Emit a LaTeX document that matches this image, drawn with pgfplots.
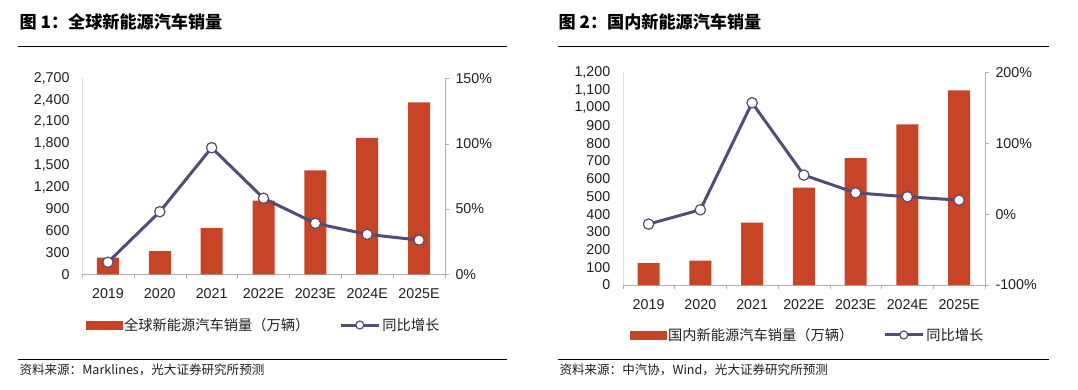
\documentclass[border=0pt]{standalone}
\usepackage{pgfplots}
\usepackage{pgfplotstable}
\pgfplotsset{compat=1.18}
\usepackage{fontspec}
\setmainfont{Liberation Sans}
\newfontfamily\cjk{Noto Sans CJK SC}
\definecolor{barred}{RGB}{200,68,38}
\definecolor{linepur}{RGB}{82,76,118}
\definecolor{axgray}{RGB}{175,175,175}
\definecolor{axlight}{RGB}{222,222,222}
\definecolor{txt}{RGB}{30,30,30}

\pgfplotstableread{
x val g
0 230 9.2
1 320 47.9
2 635 96.9
3 1015 58.2
4 1430 39.0
5 1880 30.6
6 2370 26.2
}\globaltable

\pgfplotstableread{
x val g
0 124 -14.1
1 137 6.1
2 352 157
3 549 55
4 716 30
5 906 24.4
6 1098 19.7
}\domtable

\pgfplotsset{
  common/.style={scale only axis, xmin=-0.5, xmax=6.5,
    tick label style={font=\fontsize{14.3}{16}\selectfont, text=txt},
    /pgf/number format/assume math mode=true,
    /pgf/number format/1000 sep={,},
  },
  barax/.style={common,
    axis x line=bottom, axis y line=left,
    x axis line style={axgray,-}, y axis line style={axlight,-},
    xtick={0,...,6}, xticklabels={2019,2020,2021,2022E,2023E,2024E,2025E},
    major x tick style={draw=none},
    minor xtick={-0.5,0.5,1.5,2.5,3.5,4.5,5.5,6.5},
    minor x tick style={axgray},
    minor tick length=4bp, major tick length=0bp,
    tick align=outside,
    ytick style={draw=none},
    yticklabel style={xshift=-9bp},
    xticklabel style={yshift=-11bp},
  },
  lineax/.style={common,
    axis x line=none, axis y line*=right,
    y axis line style={axgray,-},
    ytick style={axgray},
    major tick length=4bp, tick align=outside,
    yticklabel={\pgfmathprintnumber{\tick}\%},
    yticklabel style={xshift=3bp},
    legend style={draw=none, fill=none, legend columns=2,
      font=\cjk\fontsize{14.3}{16}\selectfont, text=txt,
      /tikz/every even column/.append style={column sep=28bp}},
  },
  barplot/.style={ybar, bar width=22bp, fill=barred, draw=none},
  lineplot/.style={linepur, line width=3bp, mark=*, mark size=5.2bp,
    mark options={fill=white, draw=linepur, line width=1.2bp}},
  barleg/.style={legend image code/.code={\fill[barred] (0bp,-4bp) rectangle (36bp,4bp);}},
  lineleg/.style={legend image code/.code={\draw[linepur, line width=3bp] (0bp,0bp) -- (38bp,0bp);
      \draw[linepur, fill=white, line width=1.2bp] (19bp,0bp) circle (4bp);}},
}

\begin{document}
\begin{tikzpicture}
\useasboundingbox (0,0) rectangle (1078bp,-390bp);

% ---------- Chart 1 ----------
\node[anchor=west, font=\cjk\bfseries\fontsize{17.2}{19}\selectfont, text=black] at (16bp,-22bp) {图 1：全球新能源汽车销量};
\draw[line width=1.3bp] (18bp,-46.7bp) -- (507bp,-46.7bp);

\begin{axis}[barax, width=363bp, height=196bp, at={(82bp,-274.3bp)}, anchor=south west,
  ymin=0, ymax=2700, ytick={0,300,...,2700}]
\addplot[barplot] table[x=x, y=val] {\globaltable};
\end{axis}
\begin{axis}[lineax, width=363bp, height=196bp, at={(82bp,-274.3bp)}, anchor=south west,
  ymin=0, ymax=150, ytick={0,50,100,150},
  legend style={at={(0.5,-0.2587)}, anchor=center}]
\addlegendimage{barleg}
\addlegendentry{全球新能源汽车销量（万辆）}
\addplot[lineplot, lineleg] table[x=x, y=g] {\globaltable};
\addlegendentry{同比增长}
\end{axis}

\draw[line width=1bp] (18bp,-359bp) -- (507bp,-359bp);
\node[anchor=west, font=\cjk\fontsize{12.6}{14}\selectfont, text=txt] at (16bp,-369.5bp) {资料来源：Marklines，光大证券研究所预测};

% ---------- Chart 2 ----------
\node[anchor=west, font=\cjk\bfseries\fontsize{17.2}{19}\selectfont, text=black] at (555bp,-22bp) {图 2：国内新能源汽车销量};
\draw[line width=1.3bp] (558bp,-46.7bp) -- (1049bp,-46.7bp);

\begin{axis}[barax, width=362.3bp, height=212.7bp, at={(622.7bp,-285bp)}, anchor=south west,
  ymin=0, ymax=1200, ytick={0,100,...,1200}]
\addplot[barplot] table[x=x, y=val] {\domtable};
\end{axis}
\begin{axis}[lineax, width=362.3bp, height=212.7bp, at={(622.7bp,-285bp)}, anchor=south west,
  ymin=-100, ymax=200, ytick={-100,0,100,200},
  legend style={at={(0.51,-0.235)}, anchor=center}]
\addlegendimage{barleg}
\addlegendentry{国内新能源汽车销量（万辆）}
\addplot[lineplot, lineleg] table[x=x, y=g] {\domtable};
\addlegendentry{同比增长}
\end{axis}

\draw[line width=1bp] (558bp,-359.3bp) -- (1049bp,-359.3bp);
\node[anchor=west, font=\cjk\fontsize{12.6}{14}\selectfont, text=txt] at (556bp,-369.5bp) {资料来源：中汽协，Wind，光大证券研究所预测};
\end{tikzpicture}
\end{document}
